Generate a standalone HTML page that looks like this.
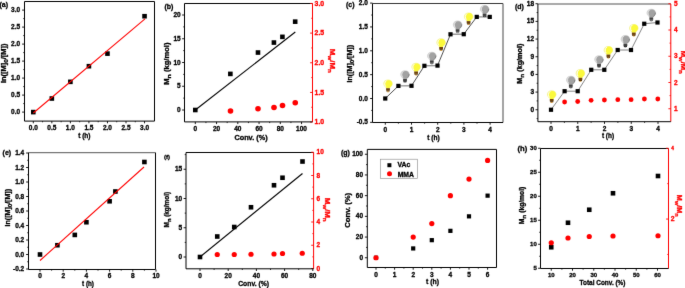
<!DOCTYPE html>
<html><head><meta charset="utf-8"><style>
html,body{margin:0;padding:0;background:#fff;width:685px;height:288px;overflow:hidden}
svg{display:block;will-change:transform;}
text{font-family:"Liberation Sans",sans-serif;font-weight:bold;stroke-width:0.3px}
</style></head><body>
<svg width="685" height="288" viewBox="0 0 685 288">
<defs><filter id="bl" x="0" y="0" width="685" height="288" filterUnits="userSpaceOnUse" color-interpolation-filters="sRGB"><feConvolveMatrix order="3" kernelMatrix="0.0052 0.0619 0.0052 0.0619 0.7314 0.0619 0.0052 0.0619 0.0052" edgeMode="duplicate"/></filter></defs>
<rect width="685" height="288" fill="#fff"/>
<g filter="url(#bl)">
<line x1="24.5" y1="1.5" x2="154.5" y2="1.5" stroke="#000" stroke-width="1"/>
<line x1="154.5" y1="1.5" x2="154.5" y2="121.1" stroke="#000" stroke-width="1"/>
<line x1="24.5" y1="1.5" x2="24.5" y2="121.1" stroke="#000" stroke-width="1"/>
<line x1="22.1" y1="112.1" x2="24.5" y2="112.1" stroke="#000" stroke-width="0.9"/>
<text x="20.1" y="114.11" text-anchor="end" font-size="6.5" fill="#000" stroke="#000">0.0</text>
<line x1="22.1" y1="95.1" x2="24.5" y2="95.1" stroke="#000" stroke-width="0.9"/>
<text x="20.1" y="97.11" text-anchor="end" font-size="6.5" fill="#000" stroke="#000">0.5</text>
<line x1="22.1" y1="78.1" x2="24.5" y2="78.1" stroke="#000" stroke-width="0.9"/>
<text x="20.1" y="80.11" text-anchor="end" font-size="6.5" fill="#000" stroke="#000">1.0</text>
<line x1="22.1" y1="61.1" x2="24.5" y2="61.1" stroke="#000" stroke-width="0.9"/>
<text x="20.1" y="63.11" text-anchor="end" font-size="6.5" fill="#000" stroke="#000">1.5</text>
<line x1="22.1" y1="44.1" x2="24.5" y2="44.1" stroke="#000" stroke-width="0.9"/>
<text x="20.1" y="46.11" text-anchor="end" font-size="6.5" fill="#000" stroke="#000">2.0</text>
<line x1="22.1" y1="27.1" x2="24.5" y2="27.1" stroke="#000" stroke-width="0.9"/>
<text x="20.1" y="29.11" text-anchor="end" font-size="6.5" fill="#000" stroke="#000">2.5</text>
<line x1="22.1" y1="10.1" x2="24.5" y2="10.1" stroke="#000" stroke-width="0.9"/>
<text x="20.1" y="12.11" text-anchor="end" font-size="6.5" fill="#000" stroke="#000">3.0</text>
<line x1="23.2" y1="103.6" x2="24.5" y2="103.6" stroke="#000" stroke-width="0.8"/>
<line x1="23.2" y1="86.6" x2="24.5" y2="86.6" stroke="#000" stroke-width="0.8"/>
<line x1="23.2" y1="69.6" x2="24.5" y2="69.6" stroke="#000" stroke-width="0.8"/>
<line x1="23.2" y1="52.6" x2="24.5" y2="52.6" stroke="#000" stroke-width="0.8"/>
<line x1="23.2" y1="35.6" x2="24.5" y2="35.6" stroke="#000" stroke-width="0.8"/>
<line x1="23.2" y1="18.6" x2="24.5" y2="18.6" stroke="#000" stroke-width="0.8"/>
<line x1="24.5" y1="121.1" x2="154.5" y2="121.1" stroke="#000" stroke-width="1"/>
<line x1="33.3" y1="121.1" x2="33.3" y2="123.3" stroke="#000" stroke-width="0.9"/>
<text x="33.3" y="130.3" text-anchor="middle" font-size="6.5" fill="#000" stroke="#000">0.0</text>
<line x1="51.84" y1="121.1" x2="51.84" y2="123.3" stroke="#000" stroke-width="0.9"/>
<text x="51.84" y="130.3" text-anchor="middle" font-size="6.5" fill="#000" stroke="#000">0.5</text>
<line x1="70.38" y1="121.1" x2="70.38" y2="123.3" stroke="#000" stroke-width="0.9"/>
<text x="70.38" y="130.3" text-anchor="middle" font-size="6.5" fill="#000" stroke="#000">1.0</text>
<line x1="88.92" y1="121.1" x2="88.92" y2="123.3" stroke="#000" stroke-width="0.9"/>
<text x="88.92" y="130.3" text-anchor="middle" font-size="6.5" fill="#000" stroke="#000">1.5</text>
<line x1="107.46" y1="121.1" x2="107.46" y2="123.3" stroke="#000" stroke-width="0.9"/>
<text x="107.46" y="130.3" text-anchor="middle" font-size="6.5" fill="#000" stroke="#000">2.0</text>
<line x1="126" y1="121.1" x2="126" y2="123.3" stroke="#000" stroke-width="0.9"/>
<text x="126" y="130.3" text-anchor="middle" font-size="6.5" fill="#000" stroke="#000">2.5</text>
<line x1="144.54" y1="121.1" x2="144.54" y2="123.3" stroke="#000" stroke-width="0.9"/>
<text x="144.54" y="130.3" text-anchor="middle" font-size="6.5" fill="#000" stroke="#000">3.0</text>
<line x1="42.57" y1="121.1" x2="42.57" y2="122.3" stroke="#000" stroke-width="0.8"/>
<line x1="61.11" y1="121.1" x2="61.11" y2="122.3" stroke="#000" stroke-width="0.8"/>
<line x1="79.65" y1="121.1" x2="79.65" y2="122.3" stroke="#000" stroke-width="0.8"/>
<line x1="98.19" y1="121.1" x2="98.19" y2="122.3" stroke="#000" stroke-width="0.8"/>
<line x1="116.73" y1="121.1" x2="116.73" y2="122.3" stroke="#000" stroke-width="0.8"/>
<line x1="135.27" y1="121.1" x2="135.27" y2="122.3" stroke="#000" stroke-width="0.8"/>
<text x="84.35" y="138.3" text-anchor="middle" font-size="6.9" fill="#000" stroke="#000" textLength="12.4" lengthAdjust="spacingAndGlyphs">t (h)</text>
<text transform="translate(5.9,63.3) rotate(-90)" text-anchor="middle" font-size="6.9" fill="#000" stroke="#000" textLength="39.4" lengthAdjust="spacingAndGlyphs">ln([M]<tspan font-size="6" dy="2">0</tspan><tspan dy="-2">/[M])</tspan></text>
<text x="-0.6" y="6.8" text-anchor="start" font-size="7" fill="#000" stroke="#000">(a)</text>
<rect x="31" y="109.8" width="4.6" height="4.6" fill="#000"/>
<rect x="49.54" y="96.2" width="4.6" height="4.6" fill="#000"/>
<rect x="68.08" y="79.54" width="4.6" height="4.6" fill="#000"/>
<rect x="86.62" y="63.9" width="4.6" height="4.6" fill="#000"/>
<rect x="105.16" y="51.32" width="4.6" height="4.6" fill="#000"/>
<rect x="142.24" y="13.92" width="4.6" height="4.6" fill="#000"/>
<line x1="33.3" y1="113" x2="145" y2="18.8" stroke="#ff0000" stroke-width="1.05"/>
<line x1="184.5" y1="3.5" x2="312.5" y2="3.5" stroke="#000" stroke-width="1"/>
<line x1="184.5" y1="3.5" x2="184.5" y2="121.9" stroke="#000" stroke-width="1"/>
<line x1="182.1" y1="110" x2="184.5" y2="110" stroke="#000" stroke-width="0.9"/>
<text x="180.7" y="112.02" text-anchor="end" font-size="6.5" fill="#000" stroke="#000">0</text>
<line x1="182.1" y1="86.25" x2="184.5" y2="86.25" stroke="#000" stroke-width="0.9"/>
<text x="180.7" y="88.27" text-anchor="end" font-size="6.5" fill="#000" stroke="#000">5</text>
<line x1="182.1" y1="62.5" x2="184.5" y2="62.5" stroke="#000" stroke-width="0.9"/>
<text x="180.7" y="64.52" text-anchor="end" font-size="6.5" fill="#000" stroke="#000">10</text>
<line x1="182.1" y1="38.75" x2="184.5" y2="38.75" stroke="#000" stroke-width="0.9"/>
<text x="180.7" y="40.77" text-anchor="end" font-size="6.5" fill="#000" stroke="#000">15</text>
<line x1="182.1" y1="15" x2="184.5" y2="15" stroke="#000" stroke-width="0.9"/>
<text x="180.7" y="17.02" text-anchor="end" font-size="6.5" fill="#000" stroke="#000">20</text>
<line x1="183.2" y1="98.12" x2="184.5" y2="98.12" stroke="#000" stroke-width="0.8"/>
<line x1="183.2" y1="74.38" x2="184.5" y2="74.38" stroke="#000" stroke-width="0.8"/>
<line x1="183.2" y1="50.62" x2="184.5" y2="50.62" stroke="#000" stroke-width="0.8"/>
<line x1="183.2" y1="26.88" x2="184.5" y2="26.88" stroke="#000" stroke-width="0.8"/>
<line x1="312.5" y1="3.5" x2="312.5" y2="121.9" stroke="#ff0000" stroke-width="1"/>
<line x1="310.1" y1="122.1" x2="312.5" y2="122.1" stroke="#ff0000" stroke-width="0.9"/>
<text x="314.6" y="124.24" text-anchor="start" font-size="6.9" fill="#ff0000" stroke="#ff0000">1.0</text>
<line x1="310.1" y1="92.44" x2="312.5" y2="92.44" stroke="#ff0000" stroke-width="0.9"/>
<text x="314.6" y="94.57" text-anchor="start" font-size="6.9" fill="#ff0000" stroke="#ff0000">1.5</text>
<line x1="310.1" y1="62.77" x2="312.5" y2="62.77" stroke="#ff0000" stroke-width="0.9"/>
<text x="314.6" y="64.91" text-anchor="start" font-size="6.9" fill="#ff0000" stroke="#ff0000">2.0</text>
<line x1="310.1" y1="33.1" x2="312.5" y2="33.1" stroke="#ff0000" stroke-width="0.9"/>
<text x="314.6" y="35.24" text-anchor="start" font-size="6.9" fill="#ff0000" stroke="#ff0000">2.5</text>
<line x1="310.1" y1="3.44" x2="312.5" y2="3.44" stroke="#ff0000" stroke-width="0.9"/>
<text x="314.6" y="5.58" text-anchor="start" font-size="6.9" fill="#ff0000" stroke="#ff0000">3.0</text>
<line x1="311.2" y1="107.27" x2="312.5" y2="107.27" stroke="#ff0000" stroke-width="0.8"/>
<line x1="311.2" y1="77.6" x2="312.5" y2="77.6" stroke="#ff0000" stroke-width="0.8"/>
<line x1="311.2" y1="47.94" x2="312.5" y2="47.94" stroke="#ff0000" stroke-width="0.8"/>
<line x1="311.2" y1="18.27" x2="312.5" y2="18.27" stroke="#ff0000" stroke-width="0.8"/>
<line x1="184.5" y1="121.9" x2="312.5" y2="121.9" stroke="#000" stroke-width="1"/>
<line x1="195.3" y1="121.9" x2="195.3" y2="124.1" stroke="#000" stroke-width="0.9"/>
<text x="195.3" y="131.1" text-anchor="middle" font-size="6.5" fill="#000" stroke="#000">0</text>
<line x1="216.55" y1="121.9" x2="216.55" y2="124.1" stroke="#000" stroke-width="0.9"/>
<text x="216.55" y="131.1" text-anchor="middle" font-size="6.5" fill="#000" stroke="#000">20</text>
<line x1="237.8" y1="121.9" x2="237.8" y2="124.1" stroke="#000" stroke-width="0.9"/>
<text x="237.8" y="131.1" text-anchor="middle" font-size="6.5" fill="#000" stroke="#000">40</text>
<line x1="259.05" y1="121.9" x2="259.05" y2="124.1" stroke="#000" stroke-width="0.9"/>
<text x="259.05" y="131.1" text-anchor="middle" font-size="6.5" fill="#000" stroke="#000">60</text>
<line x1="280.3" y1="121.9" x2="280.3" y2="124.1" stroke="#000" stroke-width="0.9"/>
<text x="280.3" y="131.1" text-anchor="middle" font-size="6.5" fill="#000" stroke="#000">80</text>
<line x1="301.55" y1="121.9" x2="301.55" y2="124.1" stroke="#000" stroke-width="0.9"/>
<text x="301.55" y="131.1" text-anchor="middle" font-size="6.5" fill="#000" stroke="#000">100</text>
<line x1="205.93" y1="121.9" x2="205.93" y2="123.1" stroke="#000" stroke-width="0.8"/>
<line x1="227.18" y1="121.9" x2="227.18" y2="123.1" stroke="#000" stroke-width="0.8"/>
<line x1="248.43" y1="121.9" x2="248.43" y2="123.1" stroke="#000" stroke-width="0.8"/>
<line x1="269.68" y1="121.9" x2="269.68" y2="123.1" stroke="#000" stroke-width="0.8"/>
<line x1="290.93" y1="121.9" x2="290.93" y2="123.1" stroke="#000" stroke-width="0.8"/>
<text x="251" y="140" text-anchor="middle" font-size="6.9" fill="#000" stroke="#000" textLength="33.2" lengthAdjust="spacingAndGlyphs">Conv. (%)</text>
<text transform="translate(169,63.65) rotate(-90)" text-anchor="middle" font-size="6.9" fill="#000" stroke="#000" textLength="42.2" lengthAdjust="spacingAndGlyphs">M<tspan font-size="6.2" dy="2">n</tspan><tspan dy="-2"> (kg/mol)</tspan></text>
<text transform="translate(329.7,60.8) rotate(90)" text-anchor="middle" font-size="7.6" fill="#ff0000" stroke="#ff0000" textLength="23.9" lengthAdjust="spacingAndGlyphs">M<tspan font-size="6.0" dy="2.0">w</tspan><tspan dy="-2.0">/M</tspan><tspan font-size="6.0" dy="2.0">n</tspan></text>
<text x="164.5" y="8.9" text-anchor="start" font-size="7" fill="#000" stroke="#000">(b)</text>
<line x1="195.3" y1="110" x2="295.3" y2="32" stroke="#000" stroke-width="1.1"/>
<rect x="193" y="107.7" width="4.6" height="4.6" fill="#000"/>
<rect x="228.06" y="71.6" width="4.6" height="4.6" fill="#000"/>
<rect x="255.69" y="50.23" width="4.6" height="4.6" fill="#000"/>
<rect x="271.62" y="40.25" width="4.6" height="4.6" fill="#000"/>
<rect x="280.12" y="34.55" width="4.6" height="4.6" fill="#000"/>
<rect x="292.88" y="19.35" width="4.6" height="4.6" fill="#000"/>
<circle cx="230.5" cy="111" r="2.8" fill="#ff0000"/>
<circle cx="258" cy="108.75" r="2.8" fill="#ff0000"/>
<circle cx="274" cy="107.5" r="2.8" fill="#ff0000"/>
<circle cx="282.5" cy="105.5" r="2.8" fill="#ff0000"/>
<circle cx="295.25" cy="102.75" r="2.8" fill="#ff0000"/>
<line x1="372.5" y1="3.5" x2="503" y2="3.5" stroke="#333" stroke-width="1"/>
<line x1="503" y1="3.5" x2="503" y2="122.5" stroke="#666" stroke-width="1.2"/>
<line x1="372.5" y1="3.5" x2="372.5" y2="122.5" stroke="#000" stroke-width="1"/>
<line x1="370.1" y1="122.35" x2="372.5" y2="122.35" stroke="#000" stroke-width="0.9"/>
<text x="367.9" y="124.36" text-anchor="end" font-size="6.5" fill="#000" stroke="#000">-0.5</text>
<line x1="370.1" y1="98.5" x2="372.5" y2="98.5" stroke="#000" stroke-width="0.9"/>
<text x="367.9" y="100.52" text-anchor="end" font-size="6.5" fill="#000" stroke="#000">0.0</text>
<line x1="370.1" y1="74.65" x2="372.5" y2="74.65" stroke="#000" stroke-width="0.9"/>
<text x="367.9" y="76.67" text-anchor="end" font-size="6.5" fill="#000" stroke="#000">0.5</text>
<line x1="370.1" y1="50.8" x2="372.5" y2="50.8" stroke="#000" stroke-width="0.9"/>
<text x="367.9" y="52.81" text-anchor="end" font-size="6.5" fill="#000" stroke="#000">1.0</text>
<line x1="370.1" y1="26.95" x2="372.5" y2="26.95" stroke="#000" stroke-width="0.9"/>
<text x="367.9" y="28.96" text-anchor="end" font-size="6.5" fill="#000" stroke="#000">1.5</text>
<line x1="370.1" y1="3.1" x2="372.5" y2="3.1" stroke="#000" stroke-width="0.9"/>
<text x="367.9" y="5.11" text-anchor="end" font-size="6.5" fill="#000" stroke="#000">2.0</text>
<line x1="371.2" y1="110.42" x2="372.5" y2="110.42" stroke="#000" stroke-width="0.8"/>
<line x1="371.2" y1="86.58" x2="372.5" y2="86.58" stroke="#000" stroke-width="0.8"/>
<line x1="371.2" y1="62.72" x2="372.5" y2="62.72" stroke="#000" stroke-width="0.8"/>
<line x1="371.2" y1="38.88" x2="372.5" y2="38.88" stroke="#000" stroke-width="0.8"/>
<line x1="371.2" y1="15.02" x2="372.5" y2="15.02" stroke="#000" stroke-width="0.8"/>
<line x1="372.5" y1="122.5" x2="503" y2="122.5" stroke="#000" stroke-width="1"/>
<line x1="385.3" y1="122.5" x2="385.3" y2="124.7" stroke="#000" stroke-width="0.9"/>
<text x="385.3" y="131.7" text-anchor="middle" font-size="6.5" fill="#000" stroke="#000">0</text>
<line x1="411.5" y1="122.5" x2="411.5" y2="124.7" stroke="#000" stroke-width="0.9"/>
<text x="411.5" y="131.7" text-anchor="middle" font-size="6.5" fill="#000" stroke="#000">1</text>
<line x1="437.7" y1="122.5" x2="437.7" y2="124.7" stroke="#000" stroke-width="0.9"/>
<text x="437.7" y="131.7" text-anchor="middle" font-size="6.5" fill="#000" stroke="#000">2</text>
<line x1="463.9" y1="122.5" x2="463.9" y2="124.7" stroke="#000" stroke-width="0.9"/>
<text x="463.9" y="131.7" text-anchor="middle" font-size="6.5" fill="#000" stroke="#000">3</text>
<line x1="490.1" y1="122.5" x2="490.1" y2="124.7" stroke="#000" stroke-width="0.9"/>
<text x="490.1" y="131.7" text-anchor="middle" font-size="6.5" fill="#000" stroke="#000">4</text>
<line x1="398.4" y1="122.5" x2="398.4" y2="123.7" stroke="#000" stroke-width="0.8"/>
<line x1="424.6" y1="122.5" x2="424.6" y2="123.7" stroke="#000" stroke-width="0.8"/>
<line x1="450.8" y1="122.5" x2="450.8" y2="123.7" stroke="#000" stroke-width="0.8"/>
<line x1="477" y1="122.5" x2="477" y2="123.7" stroke="#000" stroke-width="0.8"/>
<text x="433.55" y="140" text-anchor="middle" font-size="6.9" fill="#000" stroke="#000" textLength="12.4" lengthAdjust="spacingAndGlyphs">t (h)</text>
<text transform="translate(352.4,63.7) rotate(-90)" text-anchor="middle" font-size="6.9" fill="#000" stroke="#000" stroke-width="0.1" textLength="37.5" lengthAdjust="spacingAndGlyphs">ln([M]<tspan font-size="6" dy="2">0</tspan><tspan dy="-2">/[M])</tspan></text>
<text x="346" y="6.9" text-anchor="start" font-size="7" fill="#000" stroke="#000">(c)</text>
<line x1="385.25" y1="98.5" x2="398.4" y2="85.9" stroke="#222" stroke-width="0.8"/>
<line x1="398.4" y1="85.9" x2="411.5" y2="85.8" stroke="#999" stroke-width="1.4"/>
<line x1="411.5" y1="85.8" x2="424.4" y2="65.8" stroke="#222" stroke-width="0.8"/>
<line x1="424.4" y1="65.8" x2="437.5" y2="65.6" stroke="#999" stroke-width="1.4"/>
<line x1="437.5" y1="65.6" x2="450.5" y2="34.3" stroke="#222" stroke-width="0.8"/>
<line x1="450.5" y1="34.3" x2="463.75" y2="34.2" stroke="#999" stroke-width="1.4"/>
<line x1="463.75" y1="34.2" x2="476.75" y2="16.9" stroke="#222" stroke-width="0.8"/>
<line x1="476.75" y1="16.9" x2="489.75" y2="16.9" stroke="#999" stroke-width="1.4"/>
<g transform="translate(388,84)"><path d="M-1.9,4.3 C-2.2,3.2 -4.8,1.9 -4.8,-0.2 A4.8 4.3 0 1 1 4.8,-0.2 C4.8,1.9 2.2,3.2 1.9,4.3 Z" fill="#f2f07a" opacity="0.75"/><path d="M-1.6,4.1 C-1.6,3.1 -3.2,1.8 -3.2,-0.4 C-3.2,-2.6 -1.4,-3.8 0.6,-3.8 C2.8,-3.8 4.2,-2.2 4.2,-0.2 C4.2,1.8 1.9,3.1 1.6,4.1 Z" fill="#fbf93c"/><path d="M-2.3,2.6 C-3.7,0.9 -3.6,-1.9 -1.5,-3.4" stroke="#ffffff" stroke-width="0.9" fill="none"/><rect x="-1.9" y="4.2" width="3.8" height="2.3" fill="#6e4208"/><rect x="-1.6" y="6.4" width="3.2" height="1.1" fill="#4a2a06"/><ellipse cx="0" cy="7.7" rx="1.0" ry="0.5" fill="#d89a30"/></g>
<g transform="translate(405,74.75)"><path d="M-1.9,4.3 C-2.2,3.2 -4.8,1.9 -4.8,-0.2 A4.8 4.3 0 1 1 4.8,-0.2 C4.8,1.9 2.2,3.2 1.9,4.3 Z" fill="#c4c4c4" opacity="0.75"/><path d="M-1.6,4.1 C-1.6,3.1 -3.2,1.8 -3.2,-0.4 C-3.2,-2.6 -1.4,-3.8 0.6,-3.8 C2.8,-3.8 4.2,-2.2 4.2,-0.2 C4.2,1.8 1.9,3.1 1.6,4.1 Z" fill="#a2a2a2"/><path d="M-2.3,2.6 C-3.7,0.9 -3.6,-1.9 -1.5,-3.4" stroke="#e4e4e4" stroke-width="0.9" fill="none"/><path d="M4.1,-0.6 C4.2,1.4 3.0,2.6 2.0,3.6" stroke="#6a6a6a" stroke-width="0.7" fill="none"/><rect x="-1.9" y="4.2" width="3.8" height="2.3" fill="#404040"/><rect x="-1.6" y="6.4" width="3.2" height="1.1" fill="#262626"/><ellipse cx="0" cy="7.7" rx="1.0" ry="0.5" fill="#9a9a9a"/></g>
<g transform="translate(416.1,67.3)"><path d="M-1.9,4.3 C-2.2,3.2 -4.8,1.9 -4.8,-0.2 A4.8 4.3 0 1 1 4.8,-0.2 C4.8,1.9 2.2,3.2 1.9,4.3 Z" fill="#f2f07a" opacity="0.75"/><path d="M-1.6,4.1 C-1.6,3.1 -3.2,1.8 -3.2,-0.4 C-3.2,-2.6 -1.4,-3.8 0.6,-3.8 C2.8,-3.8 4.2,-2.2 4.2,-0.2 C4.2,1.8 1.9,3.1 1.6,4.1 Z" fill="#fbf93c"/><path d="M-2.3,2.6 C-3.7,0.9 -3.6,-1.9 -1.5,-3.4" stroke="#ffffff" stroke-width="0.9" fill="none"/><rect x="-1.9" y="4.2" width="3.8" height="2.3" fill="#6e4208"/><rect x="-1.6" y="6.4" width="3.2" height="1.1" fill="#4a2a06"/><ellipse cx="0" cy="7.7" rx="1.0" ry="0.5" fill="#d89a30"/></g>
<g transform="translate(431.8,56.2)"><path d="M-1.9,4.3 C-2.2,3.2 -4.8,1.9 -4.8,-0.2 A4.8 4.3 0 1 1 4.8,-0.2 C4.8,1.9 2.2,3.2 1.9,4.3 Z" fill="#c4c4c4" opacity="0.75"/><path d="M-1.6,4.1 C-1.6,3.1 -3.2,1.8 -3.2,-0.4 C-3.2,-2.6 -1.4,-3.8 0.6,-3.8 C2.8,-3.8 4.2,-2.2 4.2,-0.2 C4.2,1.8 1.9,3.1 1.6,4.1 Z" fill="#a2a2a2"/><path d="M-2.3,2.6 C-3.7,0.9 -3.6,-1.9 -1.5,-3.4" stroke="#e4e4e4" stroke-width="0.9" fill="none"/><path d="M4.1,-0.6 C4.2,1.4 3.0,2.6 2.0,3.6" stroke="#6a6a6a" stroke-width="0.7" fill="none"/><rect x="-1.9" y="4.2" width="3.8" height="2.3" fill="#404040"/><rect x="-1.6" y="6.4" width="3.2" height="1.1" fill="#262626"/><ellipse cx="0" cy="7.7" rx="1.0" ry="0.5" fill="#9a9a9a"/></g>
<g transform="translate(441.1,42.8)"><path d="M-1.9,4.3 C-2.2,3.2 -4.8,1.9 -4.8,-0.2 A4.8 4.3 0 1 1 4.8,-0.2 C4.8,1.9 2.2,3.2 1.9,4.3 Z" fill="#f2f07a" opacity="0.75"/><path d="M-1.6,4.1 C-1.6,3.1 -3.2,1.8 -3.2,-0.4 C-3.2,-2.6 -1.4,-3.8 0.6,-3.8 C2.8,-3.8 4.2,-2.2 4.2,-0.2 C4.2,1.8 1.9,3.1 1.6,4.1 Z" fill="#fbf93c"/><path d="M-2.3,2.6 C-3.7,0.9 -3.6,-1.9 -1.5,-3.4" stroke="#ffffff" stroke-width="0.9" fill="none"/><rect x="-1.9" y="4.2" width="3.8" height="2.3" fill="#6e4208"/><rect x="-1.6" y="6.4" width="3.2" height="1.1" fill="#4a2a06"/><ellipse cx="0" cy="7.7" rx="1.0" ry="0.5" fill="#d89a30"/></g>
<g transform="translate(457.6,25)"><path d="M-1.9,4.3 C-2.2,3.2 -4.8,1.9 -4.8,-0.2 A4.8 4.3 0 1 1 4.8,-0.2 C4.8,1.9 2.2,3.2 1.9,4.3 Z" fill="#c4c4c4" opacity="0.75"/><path d="M-1.6,4.1 C-1.6,3.1 -3.2,1.8 -3.2,-0.4 C-3.2,-2.6 -1.4,-3.8 0.6,-3.8 C2.8,-3.8 4.2,-2.2 4.2,-0.2 C4.2,1.8 1.9,3.1 1.6,4.1 Z" fill="#a2a2a2"/><path d="M-2.3,2.6 C-3.7,0.9 -3.6,-1.9 -1.5,-3.4" stroke="#e4e4e4" stroke-width="0.9" fill="none"/><path d="M4.1,-0.6 C4.2,1.4 3.0,2.6 2.0,3.6" stroke="#6a6a6a" stroke-width="0.7" fill="none"/><rect x="-1.9" y="4.2" width="3.8" height="2.3" fill="#404040"/><rect x="-1.6" y="6.4" width="3.2" height="1.1" fill="#262626"/><ellipse cx="0" cy="7.7" rx="1.0" ry="0.5" fill="#9a9a9a"/></g>
<g transform="translate(468.6,16.9)"><path d="M-1.9,4.3 C-2.2,3.2 -4.8,1.9 -4.8,-0.2 A4.8 4.3 0 1 1 4.8,-0.2 C4.8,1.9 2.2,3.2 1.9,4.3 Z" fill="#f2f07a" opacity="0.75"/><path d="M-1.6,4.1 C-1.6,3.1 -3.2,1.8 -3.2,-0.4 C-3.2,-2.6 -1.4,-3.8 0.6,-3.8 C2.8,-3.8 4.2,-2.2 4.2,-0.2 C4.2,1.8 1.9,3.1 1.6,4.1 Z" fill="#fbf93c"/><path d="M-2.3,2.6 C-3.7,0.9 -3.6,-1.9 -1.5,-3.4" stroke="#ffffff" stroke-width="0.9" fill="none"/><rect x="-1.9" y="4.2" width="3.8" height="2.3" fill="#6e4208"/><rect x="-1.6" y="6.4" width="3.2" height="1.1" fill="#4a2a06"/><ellipse cx="0" cy="7.7" rx="1.0" ry="0.5" fill="#d89a30"/></g>
<g transform="translate(484.6,9.4)"><path d="M-1.9,4.3 C-2.2,3.2 -4.8,1.9 -4.8,-0.2 A4.8 4.3 0 1 1 4.8,-0.2 C4.8,1.9 2.2,3.2 1.9,4.3 Z" fill="#c4c4c4" opacity="0.75"/><path d="M-1.6,4.1 C-1.6,3.1 -3.2,1.8 -3.2,-0.4 C-3.2,-2.6 -1.4,-3.8 0.6,-3.8 C2.8,-3.8 4.2,-2.2 4.2,-0.2 C4.2,1.8 1.9,3.1 1.6,4.1 Z" fill="#a2a2a2"/><path d="M-2.3,2.6 C-3.7,0.9 -3.6,-1.9 -1.5,-3.4" stroke="#e4e4e4" stroke-width="0.9" fill="none"/><path d="M4.1,-0.6 C4.2,1.4 3.0,2.6 2.0,3.6" stroke="#6a6a6a" stroke-width="0.7" fill="none"/><rect x="-1.9" y="4.2" width="3.8" height="2.3" fill="#404040"/><rect x="-1.6" y="6.4" width="3.2" height="1.1" fill="#262626"/><ellipse cx="0" cy="7.7" rx="1.0" ry="0.5" fill="#9a9a9a"/></g>
<rect x="383.15" y="96.4" width="4.2" height="4.2" fill="#000"/>
<rect x="396.3" y="83.8" width="4.2" height="4.2" fill="#000"/>
<rect x="409.4" y="83.7" width="4.2" height="4.2" fill="#000"/>
<rect x="422.3" y="63.7" width="4.2" height="4.2" fill="#000"/>
<rect x="435.4" y="63.5" width="4.2" height="4.2" fill="#000"/>
<rect x="448.4" y="32.2" width="4.2" height="4.2" fill="#000"/>
<rect x="461.65" y="32.1" width="4.2" height="4.2" fill="#000"/>
<rect x="474.65" y="14.8" width="4.2" height="4.2" fill="#000"/>
<rect x="487.65" y="14.8" width="4.2" height="4.2" fill="#000"/>
<line x1="537.9" y1="4" x2="670.8" y2="4" stroke="#555" stroke-width="1.2"/>
<line x1="537.9" y1="4" x2="537.9" y2="121.7" stroke="#000" stroke-width="1"/>
<line x1="535.5" y1="109.75" x2="537.9" y2="109.75" stroke="#000" stroke-width="0.9"/>
<text x="534.1" y="111.77" text-anchor="end" font-size="6.5" fill="#000" stroke="#000">0</text>
<line x1="535.5" y1="92.08" x2="537.9" y2="92.08" stroke="#000" stroke-width="0.9"/>
<text x="534.1" y="94.09" text-anchor="end" font-size="6.5" fill="#000" stroke="#000">3</text>
<line x1="535.5" y1="74.41" x2="537.9" y2="74.41" stroke="#000" stroke-width="0.9"/>
<text x="534.1" y="76.42" text-anchor="end" font-size="6.5" fill="#000" stroke="#000">6</text>
<line x1="535.5" y1="56.74" x2="537.9" y2="56.74" stroke="#000" stroke-width="0.9"/>
<text x="534.1" y="58.76" text-anchor="end" font-size="6.5" fill="#000" stroke="#000">9</text>
<line x1="535.5" y1="39.07" x2="537.9" y2="39.07" stroke="#000" stroke-width="0.9"/>
<text x="534.1" y="41.09" text-anchor="end" font-size="6.5" fill="#000" stroke="#000">12</text>
<line x1="535.5" y1="21.4" x2="537.9" y2="21.4" stroke="#000" stroke-width="0.9"/>
<text x="534.1" y="23.42" text-anchor="end" font-size="6.5" fill="#000" stroke="#000">15</text>
<line x1="535.5" y1="3.73" x2="537.9" y2="3.73" stroke="#000" stroke-width="0.9"/>
<text x="534.1" y="5.75" text-anchor="end" font-size="6.5" fill="#000" stroke="#000">18</text>
<line x1="536.6" y1="118.58" x2="537.9" y2="118.58" stroke="#000" stroke-width="0.8"/>
<line x1="536.6" y1="100.92" x2="537.9" y2="100.92" stroke="#000" stroke-width="0.8"/>
<line x1="536.6" y1="83.25" x2="537.9" y2="83.25" stroke="#000" stroke-width="0.8"/>
<line x1="536.6" y1="65.58" x2="537.9" y2="65.58" stroke="#000" stroke-width="0.8"/>
<line x1="536.6" y1="47.91" x2="537.9" y2="47.91" stroke="#000" stroke-width="0.8"/>
<line x1="536.6" y1="30.23" x2="537.9" y2="30.23" stroke="#000" stroke-width="0.8"/>
<line x1="536.6" y1="12.57" x2="537.9" y2="12.57" stroke="#000" stroke-width="0.8"/>
<line x1="670.8" y1="4" x2="670.8" y2="121.7" stroke="#ff0000" stroke-width="1"/>
<line x1="668.4" y1="108.75" x2="670.8" y2="108.75" stroke="#ff0000" stroke-width="0.9"/>
<text x="674" y="110.77" text-anchor="start" font-size="6.5" fill="#ff0000" stroke="#ff0000">1</text>
<line x1="668.4" y1="82.5" x2="670.8" y2="82.5" stroke="#ff0000" stroke-width="0.9"/>
<text x="674" y="84.52" text-anchor="start" font-size="6.5" fill="#ff0000" stroke="#ff0000">2</text>
<line x1="668.4" y1="56.25" x2="670.8" y2="56.25" stroke="#ff0000" stroke-width="0.9"/>
<text x="674" y="58.27" text-anchor="start" font-size="6.5" fill="#ff0000" stroke="#ff0000">3</text>
<line x1="668.4" y1="30" x2="670.8" y2="30" stroke="#ff0000" stroke-width="0.9"/>
<text x="674" y="32.02" text-anchor="start" font-size="6.5" fill="#ff0000" stroke="#ff0000">4</text>
<line x1="668.4" y1="3.75" x2="670.8" y2="3.75" stroke="#ff0000" stroke-width="0.9"/>
<text x="674" y="5.77" text-anchor="start" font-size="6.5" fill="#ff0000" stroke="#ff0000">5</text>
<line x1="669.5" y1="95.62" x2="670.8" y2="95.62" stroke="#ff0000" stroke-width="0.8"/>
<line x1="669.5" y1="69.38" x2="670.8" y2="69.38" stroke="#ff0000" stroke-width="0.8"/>
<line x1="669.5" y1="43.12" x2="670.8" y2="43.12" stroke="#ff0000" stroke-width="0.8"/>
<line x1="669.5" y1="16.88" x2="670.8" y2="16.88" stroke="#ff0000" stroke-width="0.8"/>
<line x1="537.9" y1="121.7" x2="670.8" y2="121.7" stroke="#000" stroke-width="1"/>
<line x1="551" y1="121.7" x2="551" y2="123.9" stroke="#000" stroke-width="0.9"/>
<text x="551" y="130.9" text-anchor="middle" font-size="6.5" fill="#000" stroke="#000">0</text>
<line x1="577.75" y1="121.7" x2="577.75" y2="123.9" stroke="#000" stroke-width="0.9"/>
<text x="577.75" y="130.9" text-anchor="middle" font-size="6.5" fill="#000" stroke="#000">1</text>
<line x1="604.5" y1="121.7" x2="604.5" y2="123.9" stroke="#000" stroke-width="0.9"/>
<text x="604.5" y="130.9" text-anchor="middle" font-size="6.5" fill="#000" stroke="#000">2</text>
<line x1="631.25" y1="121.7" x2="631.25" y2="123.9" stroke="#000" stroke-width="0.9"/>
<text x="631.25" y="130.9" text-anchor="middle" font-size="6.5" fill="#000" stroke="#000">3</text>
<line x1="658" y1="121.7" x2="658" y2="123.9" stroke="#000" stroke-width="0.9"/>
<text x="658" y="130.9" text-anchor="middle" font-size="6.5" fill="#000" stroke="#000">4</text>
<line x1="564.38" y1="121.7" x2="564.38" y2="122.9" stroke="#000" stroke-width="0.8"/>
<line x1="591.12" y1="121.7" x2="591.12" y2="122.9" stroke="#000" stroke-width="0.8"/>
<line x1="617.88" y1="121.7" x2="617.88" y2="122.9" stroke="#000" stroke-width="0.8"/>
<line x1="644.62" y1="121.7" x2="644.62" y2="122.9" stroke="#000" stroke-width="0.8"/>
<text x="608" y="138.3" text-anchor="middle" font-size="6.9" fill="#000" stroke="#000" textLength="12.1" lengthAdjust="spacingAndGlyphs">t (h)</text>
<text transform="translate(521.6,63.7) rotate(-90)" text-anchor="middle" font-size="6.9" fill="#000" stroke="#000" textLength="40.1" lengthAdjust="spacingAndGlyphs">M<tspan font-size="6.2" dy="2">n</tspan><tspan dy="-2"> (kg/mol)</tspan></text>
<text transform="translate(680.5,62.25) rotate(90)" text-anchor="middle" font-size="7.6" fill="#ff0000" stroke="#ff0000" textLength="22.8" lengthAdjust="spacingAndGlyphs">M<tspan font-size="6.0" dy="2.0">w</tspan><tspan dy="-2.0">/M</tspan><tspan font-size="6.0" dy="2.0">n</tspan></text>
<text x="515" y="9" text-anchor="start" font-size="7" fill="#000" stroke="#000">(d)</text>
<polyline points="551,109.75 564.6,91.2 577.7,91.2 591.25,69.8 604.3,69.8 617.7,50 631,50 644.25,23.75 657.5,22.5" fill="none" stroke="#666" stroke-width="0.8"/>
<g transform="translate(551.7,94.8)"><path d="M-1.9,4.3 C-2.2,3.2 -4.8,1.9 -4.8,-0.2 A4.8 4.3 0 1 1 4.8,-0.2 C4.8,1.9 2.2,3.2 1.9,4.3 Z" fill="#f2f07a" opacity="0.75"/><path d="M-1.6,4.1 C-1.6,3.1 -3.2,1.8 -3.2,-0.4 C-3.2,-2.6 -1.4,-3.8 0.6,-3.8 C2.8,-3.8 4.2,-2.2 4.2,-0.2 C4.2,1.8 1.9,3.1 1.6,4.1 Z" fill="#fbf93c"/><path d="M-2.3,2.6 C-3.7,0.9 -3.6,-1.9 -1.5,-3.4" stroke="#ffffff" stroke-width="0.9" fill="none"/><rect x="-1.9" y="4.2" width="3.8" height="2.3" fill="#6e4208"/><rect x="-1.6" y="6.4" width="3.2" height="1.1" fill="#4a2a06"/><ellipse cx="0" cy="7.7" rx="1.0" ry="0.5" fill="#d89a30"/></g>
<g transform="translate(570.8,80.3)"><path d="M-1.9,4.3 C-2.2,3.2 -4.8,1.9 -4.8,-0.2 A4.8 4.3 0 1 1 4.8,-0.2 C4.8,1.9 2.2,3.2 1.9,4.3 Z" fill="#c4c4c4" opacity="0.75"/><path d="M-1.6,4.1 C-1.6,3.1 -3.2,1.8 -3.2,-0.4 C-3.2,-2.6 -1.4,-3.8 0.6,-3.8 C2.8,-3.8 4.2,-2.2 4.2,-0.2 C4.2,1.8 1.9,3.1 1.6,4.1 Z" fill="#a2a2a2"/><path d="M-2.3,2.6 C-3.7,0.9 -3.6,-1.9 -1.5,-3.4" stroke="#e4e4e4" stroke-width="0.9" fill="none"/><path d="M4.1,-0.6 C4.2,1.4 3.0,2.6 2.0,3.6" stroke="#6a6a6a" stroke-width="0.7" fill="none"/><rect x="-1.9" y="4.2" width="3.8" height="2.3" fill="#404040"/><rect x="-1.6" y="6.4" width="3.2" height="1.1" fill="#262626"/><ellipse cx="0" cy="7.7" rx="1.0" ry="0.5" fill="#9a9a9a"/></g>
<g transform="translate(580.4,73.6)"><path d="M-1.9,4.3 C-2.2,3.2 -4.8,1.9 -4.8,-0.2 A4.8 4.3 0 1 1 4.8,-0.2 C4.8,1.9 2.2,3.2 1.9,4.3 Z" fill="#f2f07a" opacity="0.75"/><path d="M-1.6,4.1 C-1.6,3.1 -3.2,1.8 -3.2,-0.4 C-3.2,-2.6 -1.4,-3.8 0.6,-3.8 C2.8,-3.8 4.2,-2.2 4.2,-0.2 C4.2,1.8 1.9,3.1 1.6,4.1 Z" fill="#fbf93c"/><path d="M-2.3,2.6 C-3.7,0.9 -3.6,-1.9 -1.5,-3.4" stroke="#ffffff" stroke-width="0.9" fill="none"/><rect x="-1.9" y="4.2" width="3.8" height="2.3" fill="#6e4208"/><rect x="-1.6" y="6.4" width="3.2" height="1.1" fill="#4a2a06"/><ellipse cx="0" cy="7.7" rx="1.0" ry="0.5" fill="#d89a30"/></g>
<g transform="translate(599,59.8)"><path d="M-1.9,4.3 C-2.2,3.2 -4.8,1.9 -4.8,-0.2 A4.8 4.3 0 1 1 4.8,-0.2 C4.8,1.9 2.2,3.2 1.9,4.3 Z" fill="#c4c4c4" opacity="0.75"/><path d="M-1.6,4.1 C-1.6,3.1 -3.2,1.8 -3.2,-0.4 C-3.2,-2.6 -1.4,-3.8 0.6,-3.8 C2.8,-3.8 4.2,-2.2 4.2,-0.2 C4.2,1.8 1.9,3.1 1.6,4.1 Z" fill="#a2a2a2"/><path d="M-2.3,2.6 C-3.7,0.9 -3.6,-1.9 -1.5,-3.4" stroke="#e4e4e4" stroke-width="0.9" fill="none"/><path d="M4.1,-0.6 C4.2,1.4 3.0,2.6 2.0,3.6" stroke="#6a6a6a" stroke-width="0.7" fill="none"/><rect x="-1.9" y="4.2" width="3.8" height="2.3" fill="#404040"/><rect x="-1.6" y="6.4" width="3.2" height="1.1" fill="#262626"/><ellipse cx="0" cy="7.7" rx="1.0" ry="0.5" fill="#9a9a9a"/></g>
<g transform="translate(608.4,50.4)"><path d="M-1.9,4.3 C-2.2,3.2 -4.8,1.9 -4.8,-0.2 A4.8 4.3 0 1 1 4.8,-0.2 C4.8,1.9 2.2,3.2 1.9,4.3 Z" fill="#f2f07a" opacity="0.75"/><path d="M-1.6,4.1 C-1.6,3.1 -3.2,1.8 -3.2,-0.4 C-3.2,-2.6 -1.4,-3.8 0.6,-3.8 C2.8,-3.8 4.2,-2.2 4.2,-0.2 C4.2,1.8 1.9,3.1 1.6,4.1 Z" fill="#fbf93c"/><path d="M-2.3,2.6 C-3.7,0.9 -3.6,-1.9 -1.5,-3.4" stroke="#ffffff" stroke-width="0.9" fill="none"/><rect x="-1.9" y="4.2" width="3.8" height="2.3" fill="#6e4208"/><rect x="-1.6" y="6.4" width="3.2" height="1.1" fill="#4a2a06"/><ellipse cx="0" cy="7.7" rx="1.0" ry="0.5" fill="#d89a30"/></g>
<g transform="translate(625.4,39.5)"><path d="M-1.9,4.3 C-2.2,3.2 -4.8,1.9 -4.8,-0.2 A4.8 4.3 0 1 1 4.8,-0.2 C4.8,1.9 2.2,3.2 1.9,4.3 Z" fill="#c4c4c4" opacity="0.75"/><path d="M-1.6,4.1 C-1.6,3.1 -3.2,1.8 -3.2,-0.4 C-3.2,-2.6 -1.4,-3.8 0.6,-3.8 C2.8,-3.8 4.2,-2.2 4.2,-0.2 C4.2,1.8 1.9,3.1 1.6,4.1 Z" fill="#a2a2a2"/><path d="M-2.3,2.6 C-3.7,0.9 -3.6,-1.9 -1.5,-3.4" stroke="#e4e4e4" stroke-width="0.9" fill="none"/><path d="M4.1,-0.6 C4.2,1.4 3.0,2.6 2.0,3.6" stroke="#6a6a6a" stroke-width="0.7" fill="none"/><rect x="-1.9" y="4.2" width="3.8" height="2.3" fill="#404040"/><rect x="-1.6" y="6.4" width="3.2" height="1.1" fill="#262626"/><ellipse cx="0" cy="7.7" rx="1.0" ry="0.5" fill="#9a9a9a"/></g>
<g transform="translate(633.8,28.4)"><path d="M-1.9,4.3 C-2.2,3.2 -4.8,1.9 -4.8,-0.2 A4.8 4.3 0 1 1 4.8,-0.2 C4.8,1.9 2.2,3.2 1.9,4.3 Z" fill="#f2f07a" opacity="0.75"/><path d="M-1.6,4.1 C-1.6,3.1 -3.2,1.8 -3.2,-0.4 C-3.2,-2.6 -1.4,-3.8 0.6,-3.8 C2.8,-3.8 4.2,-2.2 4.2,-0.2 C4.2,1.8 1.9,3.1 1.6,4.1 Z" fill="#fbf93c"/><path d="M-2.3,2.6 C-3.7,0.9 -3.6,-1.9 -1.5,-3.4" stroke="#ffffff" stroke-width="0.9" fill="none"/><rect x="-1.9" y="4.2" width="3.8" height="2.3" fill="#6e4208"/><rect x="-1.6" y="6.4" width="3.2" height="1.1" fill="#4a2a06"/><ellipse cx="0" cy="7.7" rx="1.0" ry="0.5" fill="#d89a30"/></g>
<g transform="translate(651.3,13.2)"><path d="M-1.9,4.3 C-2.2,3.2 -4.8,1.9 -4.8,-0.2 A4.8 4.3 0 1 1 4.8,-0.2 C4.8,1.9 2.2,3.2 1.9,4.3 Z" fill="#c4c4c4" opacity="0.75"/><path d="M-1.6,4.1 C-1.6,3.1 -3.2,1.8 -3.2,-0.4 C-3.2,-2.6 -1.4,-3.8 0.6,-3.8 C2.8,-3.8 4.2,-2.2 4.2,-0.2 C4.2,1.8 1.9,3.1 1.6,4.1 Z" fill="#a2a2a2"/><path d="M-2.3,2.6 C-3.7,0.9 -3.6,-1.9 -1.5,-3.4" stroke="#e4e4e4" stroke-width="0.9" fill="none"/><path d="M4.1,-0.6 C4.2,1.4 3.0,2.6 2.0,3.6" stroke="#6a6a6a" stroke-width="0.7" fill="none"/><rect x="-1.9" y="4.2" width="3.8" height="2.3" fill="#404040"/><rect x="-1.6" y="6.4" width="3.2" height="1.1" fill="#262626"/><ellipse cx="0" cy="7.7" rx="1.0" ry="0.5" fill="#9a9a9a"/></g>
<rect x="548.9" y="107.65" width="4.2" height="4.2" fill="#000"/>
<rect x="562.5" y="89.1" width="4.2" height="4.2" fill="#000"/>
<rect x="575.6" y="89.1" width="4.2" height="4.2" fill="#000"/>
<rect x="589.15" y="67.7" width="4.2" height="4.2" fill="#000"/>
<rect x="602.2" y="67.7" width="4.2" height="4.2" fill="#000"/>
<rect x="615.6" y="47.9" width="4.2" height="4.2" fill="#000"/>
<rect x="628.9" y="47.9" width="4.2" height="4.2" fill="#000"/>
<rect x="642.15" y="21.65" width="4.2" height="4.2" fill="#000"/>
<rect x="655.4" y="20.4" width="4.2" height="4.2" fill="#000"/>
<circle cx="564.6" cy="102" r="2.4" fill="#ff0000"/>
<circle cx="577.7" cy="101.5" r="2.4" fill="#ff0000"/>
<circle cx="591.1" cy="100.3" r="2.4" fill="#ff0000"/>
<circle cx="604.4" cy="100" r="2.4" fill="#ff0000"/>
<circle cx="617.8" cy="99.7" r="2.4" fill="#ff0000"/>
<circle cx="631.1" cy="99.7" r="2.4" fill="#ff0000"/>
<circle cx="644.4" cy="99" r="2.4" fill="#ff0000"/>
<circle cx="657.8" cy="99" r="2.4" fill="#ff0000"/>
<line x1="28.5" y1="152.7" x2="155.5" y2="152.7" stroke="#555" stroke-width="1"/>
<line x1="155.5" y1="152.7" x2="155.5" y2="269.5" stroke="#000" stroke-width="1"/>
<line x1="28.5" y1="152.7" x2="28.5" y2="269.5" stroke="#000" stroke-width="1"/>
<line x1="26.1" y1="269" x2="28.5" y2="269" stroke="#000" stroke-width="0.9"/>
<text x="24.2" y="271.01" text-anchor="end" font-size="6.5" fill="#000" stroke="#000">-0.2</text>
<line x1="26.1" y1="254.5" x2="28.5" y2="254.5" stroke="#000" stroke-width="0.9"/>
<text x="24.2" y="256.51" text-anchor="end" font-size="6.5" fill="#000" stroke="#000">0.0</text>
<line x1="26.1" y1="240" x2="28.5" y2="240" stroke="#000" stroke-width="0.9"/>
<text x="24.2" y="242.01" text-anchor="end" font-size="6.5" fill="#000" stroke="#000">0.2</text>
<line x1="26.1" y1="225.5" x2="28.5" y2="225.5" stroke="#000" stroke-width="0.9"/>
<text x="24.2" y="227.51" text-anchor="end" font-size="6.5" fill="#000" stroke="#000">0.4</text>
<line x1="26.1" y1="211" x2="28.5" y2="211" stroke="#000" stroke-width="0.9"/>
<text x="24.2" y="213.01" text-anchor="end" font-size="6.5" fill="#000" stroke="#000">0.6</text>
<line x1="26.1" y1="196.5" x2="28.5" y2="196.5" stroke="#000" stroke-width="0.9"/>
<text x="24.2" y="198.51" text-anchor="end" font-size="6.5" fill="#000" stroke="#000">0.8</text>
<line x1="26.1" y1="182" x2="28.5" y2="182" stroke="#000" stroke-width="0.9"/>
<text x="24.2" y="184.01" text-anchor="end" font-size="6.5" fill="#000" stroke="#000">1.0</text>
<line x1="26.1" y1="167.5" x2="28.5" y2="167.5" stroke="#000" stroke-width="0.9"/>
<text x="24.2" y="169.51" text-anchor="end" font-size="6.5" fill="#000" stroke="#000">1.2</text>
<line x1="26.1" y1="153" x2="28.5" y2="153" stroke="#000" stroke-width="0.9"/>
<text x="24.2" y="155.01" text-anchor="end" font-size="6.5" fill="#000" stroke="#000">1.4</text>
<line x1="27.2" y1="261.75" x2="28.5" y2="261.75" stroke="#000" stroke-width="0.8"/>
<line x1="27.2" y1="247.25" x2="28.5" y2="247.25" stroke="#000" stroke-width="0.8"/>
<line x1="27.2" y1="232.75" x2="28.5" y2="232.75" stroke="#000" stroke-width="0.8"/>
<line x1="27.2" y1="218.25" x2="28.5" y2="218.25" stroke="#000" stroke-width="0.8"/>
<line x1="27.2" y1="203.75" x2="28.5" y2="203.75" stroke="#000" stroke-width="0.8"/>
<line x1="27.2" y1="189.25" x2="28.5" y2="189.25" stroke="#000" stroke-width="0.8"/>
<line x1="27.2" y1="174.75" x2="28.5" y2="174.75" stroke="#000" stroke-width="0.8"/>
<line x1="27.2" y1="160.25" x2="28.5" y2="160.25" stroke="#000" stroke-width="0.8"/>
<line x1="28.5" y1="269.5" x2="155.5" y2="269.5" stroke="#000" stroke-width="1"/>
<line x1="40" y1="269.5" x2="40" y2="271.7" stroke="#000" stroke-width="0.9"/>
<text x="40" y="278" text-anchor="middle" font-size="6.5" fill="#000" stroke="#000">0</text>
<line x1="63.2" y1="269.5" x2="63.2" y2="271.7" stroke="#000" stroke-width="0.9"/>
<text x="63.2" y="278" text-anchor="middle" font-size="6.5" fill="#000" stroke="#000">2</text>
<line x1="86.4" y1="269.5" x2="86.4" y2="271.7" stroke="#000" stroke-width="0.9"/>
<text x="86.4" y="278" text-anchor="middle" font-size="6.5" fill="#000" stroke="#000">4</text>
<line x1="109.6" y1="269.5" x2="109.6" y2="271.7" stroke="#000" stroke-width="0.9"/>
<text x="109.6" y="278" text-anchor="middle" font-size="6.5" fill="#000" stroke="#000">6</text>
<line x1="132.8" y1="269.5" x2="132.8" y2="271.7" stroke="#000" stroke-width="0.9"/>
<text x="132.8" y="278" text-anchor="middle" font-size="6.5" fill="#000" stroke="#000">8</text>
<line x1="156" y1="269.5" x2="156" y2="271.7" stroke="#000" stroke-width="0.9"/>
<text x="156" y="278" text-anchor="middle" font-size="6.5" fill="#000" stroke="#000">10</text>
<line x1="51.6" y1="269.5" x2="51.6" y2="270.7" stroke="#000" stroke-width="0.8"/>
<line x1="74.8" y1="269.5" x2="74.8" y2="270.7" stroke="#000" stroke-width="0.8"/>
<line x1="98" y1="269.5" x2="98" y2="270.7" stroke="#000" stroke-width="0.8"/>
<line x1="121.2" y1="269.5" x2="121.2" y2="270.7" stroke="#000" stroke-width="0.8"/>
<line x1="144.4" y1="269.5" x2="144.4" y2="270.7" stroke="#000" stroke-width="0.8"/>
<text x="88" y="286" text-anchor="middle" font-size="6.9" fill="#000" stroke="#000" textLength="11.9" lengthAdjust="spacingAndGlyphs">t (h)</text>
<text transform="translate(9.6,207.7) rotate(-90)" text-anchor="middle" font-size="6.9" fill="#000" stroke="#000" textLength="37.5" lengthAdjust="spacingAndGlyphs">ln([M]<tspan font-size="6" dy="2">0</tspan><tspan dy="-2">/[M])</tspan></text>
<text x="2.6" y="155.4" text-anchor="start" font-size="7" fill="#000" stroke="#000">(e)</text>
<rect x="37.7" y="252.2" width="4.6" height="4.6" fill="#000"/>
<rect x="55.1" y="242.92" width="4.6" height="4.6" fill="#000"/>
<rect x="72.5" y="232.62" width="4.6" height="4.6" fill="#000"/>
<rect x="84.1" y="219.94" width="4.6" height="4.6" fill="#000"/>
<rect x="107.3" y="198.98" width="4.6" height="4.6" fill="#000"/>
<rect x="113.1" y="189.2" width="4.6" height="4.6" fill="#000"/>
<rect x="142.1" y="159.69" width="4.6" height="4.6" fill="#000"/>
<line x1="40" y1="260.5" x2="144" y2="167" stroke="#ff0000" stroke-width="1.05"/>
<line x1="186" y1="152.5" x2="313.6" y2="152.5" stroke="#000" stroke-width="1"/>
<line x1="186" y1="152.5" x2="186" y2="268.8" stroke="#000" stroke-width="1"/>
<line x1="183.6" y1="257" x2="186" y2="257" stroke="#000" stroke-width="0.9"/>
<text x="182.2" y="259.01" text-anchor="end" font-size="6.5" fill="#000" stroke="#000">0</text>
<line x1="183.6" y1="227.75" x2="186" y2="227.75" stroke="#000" stroke-width="0.9"/>
<text x="182.2" y="229.76" text-anchor="end" font-size="6.5" fill="#000" stroke="#000">5</text>
<line x1="183.6" y1="198.5" x2="186" y2="198.5" stroke="#000" stroke-width="0.9"/>
<text x="182.2" y="200.51" text-anchor="end" font-size="6.5" fill="#000" stroke="#000">10</text>
<line x1="183.6" y1="169.25" x2="186" y2="169.25" stroke="#000" stroke-width="0.9"/>
<text x="182.2" y="171.26" text-anchor="end" font-size="6.5" fill="#000" stroke="#000">15</text>
<line x1="184.7" y1="242.38" x2="186" y2="242.38" stroke="#000" stroke-width="0.8"/>
<line x1="184.7" y1="213.12" x2="186" y2="213.12" stroke="#000" stroke-width="0.8"/>
<line x1="184.7" y1="183.88" x2="186" y2="183.88" stroke="#000" stroke-width="0.8"/>
<line x1="184.7" y1="154.62" x2="186" y2="154.62" stroke="#000" stroke-width="0.8"/>
<line x1="313.6" y1="152.5" x2="313.6" y2="268.8" stroke="#ff0000" stroke-width="1"/>
<line x1="311.2" y1="268.5" x2="313.6" y2="268.5" stroke="#ff0000" stroke-width="0.9"/>
<text x="316.6" y="270.51" text-anchor="start" font-size="6.5" fill="#ff0000" stroke="#ff0000">0</text>
<line x1="311.2" y1="245.25" x2="313.6" y2="245.25" stroke="#ff0000" stroke-width="0.9"/>
<text x="316.6" y="247.26" text-anchor="start" font-size="6.5" fill="#ff0000" stroke="#ff0000">2</text>
<line x1="311.2" y1="222" x2="313.6" y2="222" stroke="#ff0000" stroke-width="0.9"/>
<text x="316.6" y="224.01" text-anchor="start" font-size="6.5" fill="#ff0000" stroke="#ff0000">4</text>
<line x1="311.2" y1="198.75" x2="313.6" y2="198.75" stroke="#ff0000" stroke-width="0.9"/>
<text x="316.6" y="200.76" text-anchor="start" font-size="6.5" fill="#ff0000" stroke="#ff0000">6</text>
<line x1="311.2" y1="175.5" x2="313.6" y2="175.5" stroke="#ff0000" stroke-width="0.9"/>
<text x="316.6" y="177.51" text-anchor="start" font-size="6.5" fill="#ff0000" stroke="#ff0000">8</text>
<line x1="311.2" y1="152.25" x2="313.6" y2="152.25" stroke="#ff0000" stroke-width="0.9"/>
<text x="316.6" y="154.26" text-anchor="start" font-size="6.5" fill="#ff0000" stroke="#ff0000">10</text>
<line x1="312.3" y1="256.88" x2="313.6" y2="256.88" stroke="#ff0000" stroke-width="0.8"/>
<line x1="312.3" y1="233.62" x2="313.6" y2="233.62" stroke="#ff0000" stroke-width="0.8"/>
<line x1="312.3" y1="210.38" x2="313.6" y2="210.38" stroke="#ff0000" stroke-width="0.8"/>
<line x1="312.3" y1="187.12" x2="313.6" y2="187.12" stroke="#ff0000" stroke-width="0.8"/>
<line x1="312.3" y1="163.88" x2="313.6" y2="163.88" stroke="#ff0000" stroke-width="0.8"/>
<line x1="186" y1="268.8" x2="313.6" y2="268.8" stroke="#000" stroke-width="1"/>
<line x1="200" y1="268.8" x2="200" y2="271" stroke="#000" stroke-width="0.9"/>
<text x="200" y="278" text-anchor="middle" font-size="6.5" fill="#000" stroke="#000">0</text>
<line x1="228.2" y1="268.8" x2="228.2" y2="271" stroke="#000" stroke-width="0.9"/>
<text x="228.2" y="278" text-anchor="middle" font-size="6.5" fill="#000" stroke="#000">20</text>
<line x1="256.4" y1="268.8" x2="256.4" y2="271" stroke="#000" stroke-width="0.9"/>
<text x="256.4" y="278" text-anchor="middle" font-size="6.5" fill="#000" stroke="#000">40</text>
<line x1="284.6" y1="268.8" x2="284.6" y2="271" stroke="#000" stroke-width="0.9"/>
<text x="284.6" y="278" text-anchor="middle" font-size="6.5" fill="#000" stroke="#000">60</text>
<line x1="312.8" y1="268.8" x2="312.8" y2="271" stroke="#000" stroke-width="0.9"/>
<text x="312.8" y="278" text-anchor="middle" font-size="6.5" fill="#000" stroke="#000">80</text>
<line x1="214.1" y1="268.8" x2="214.1" y2="270" stroke="#000" stroke-width="0.8"/>
<line x1="242.3" y1="268.8" x2="242.3" y2="270" stroke="#000" stroke-width="0.8"/>
<line x1="270.5" y1="268.8" x2="270.5" y2="270" stroke="#000" stroke-width="0.8"/>
<line x1="298.7" y1="268.8" x2="298.7" y2="270" stroke="#000" stroke-width="0.8"/>
<text x="253.6" y="286" text-anchor="middle" font-size="6.9" fill="#000" stroke="#000" textLength="30.75" lengthAdjust="spacingAndGlyphs">Conv. (%)</text>
<text transform="translate(169.2,209.7) rotate(-90)" text-anchor="middle" font-size="6.9" fill="#000" stroke="#000" textLength="35.5" lengthAdjust="spacingAndGlyphs">M<tspan font-size="6.2" dy="2">n</tspan><tspan dy="-2"> (kg/mol)</tspan></text>
<text transform="translate(324.5,209.75) rotate(90)" text-anchor="middle" font-size="7.6" fill="#ff0000" stroke="#ff0000" textLength="23.8" lengthAdjust="spacingAndGlyphs">M<tspan font-size="6.0" dy="2.0">w</tspan><tspan dy="-2.0">/M</tspan><tspan font-size="6.0" dy="2.0">n</tspan></text>
<text x="163.9" y="158.9" text-anchor="start" font-size="6" fill="#000" stroke="#000" stroke-width="0.1" textLength="6.0" lengthAdjust="spacing">(f)</text>
<line x1="200" y1="257" x2="302.5" y2="173.5" stroke="#000" stroke-width="1.1"/>
<rect x="197.7" y="254.7" width="4.6" height="4.6" fill="#000"/>
<rect x="214.95" y="234.2" width="4.6" height="4.6" fill="#000"/>
<rect x="231.95" y="224.7" width="4.6" height="4.6" fill="#000"/>
<rect x="248.7" y="204.95" width="4.6" height="4.6" fill="#000"/>
<rect x="271.7" y="182.95" width="4.6" height="4.6" fill="#000"/>
<rect x="280.2" y="175.45" width="4.6" height="4.6" fill="#000"/>
<rect x="300.2" y="159.2" width="4.6" height="4.6" fill="#000"/>
<circle cx="217.25" cy="254.5" r="2.6" fill="#ff0000"/>
<circle cx="234.25" cy="254.5" r="2.6" fill="#ff0000"/>
<circle cx="251" cy="254.25" r="2.6" fill="#ff0000"/>
<circle cx="274" cy="254" r="2.6" fill="#ff0000"/>
<circle cx="282.5" cy="253.5" r="2.6" fill="#ff0000"/>
<circle cx="302.25" cy="253.25" r="2.6" fill="#ff0000"/>
<line x1="367.3" y1="149.4" x2="496.5" y2="149.4" stroke="#000" stroke-width="1"/>
<line x1="496.5" y1="149.4" x2="496.5" y2="267.5" stroke="#000" stroke-width="1"/>
<line x1="367.3" y1="149.4" x2="367.3" y2="267.5" stroke="#000" stroke-width="1"/>
<line x1="364.9" y1="257.75" x2="367.3" y2="257.75" stroke="#000" stroke-width="0.9"/>
<text x="363" y="259.76" text-anchor="end" font-size="6.5" fill="#000" stroke="#000">0</text>
<line x1="364.9" y1="237.05" x2="367.3" y2="237.05" stroke="#000" stroke-width="0.9"/>
<text x="363" y="239.06" text-anchor="end" font-size="6.5" fill="#000" stroke="#000">20</text>
<line x1="364.9" y1="216.35" x2="367.3" y2="216.35" stroke="#000" stroke-width="0.9"/>
<text x="363" y="218.36" text-anchor="end" font-size="6.5" fill="#000" stroke="#000">40</text>
<line x1="364.9" y1="195.65" x2="367.3" y2="195.65" stroke="#000" stroke-width="0.9"/>
<text x="363" y="197.66" text-anchor="end" font-size="6.5" fill="#000" stroke="#000">60</text>
<line x1="364.9" y1="174.95" x2="367.3" y2="174.95" stroke="#000" stroke-width="0.9"/>
<text x="363" y="176.96" text-anchor="end" font-size="6.5" fill="#000" stroke="#000">80</text>
<line x1="364.9" y1="154.25" x2="367.3" y2="154.25" stroke="#000" stroke-width="0.9"/>
<text x="363" y="156.26" text-anchor="end" font-size="6.5" fill="#000" stroke="#000">100</text>
<line x1="366" y1="247.4" x2="367.3" y2="247.4" stroke="#000" stroke-width="0.8"/>
<line x1="366" y1="226.7" x2="367.3" y2="226.7" stroke="#000" stroke-width="0.8"/>
<line x1="366" y1="206" x2="367.3" y2="206" stroke="#000" stroke-width="0.8"/>
<line x1="366" y1="185.3" x2="367.3" y2="185.3" stroke="#000" stroke-width="0.8"/>
<line x1="366" y1="164.6" x2="367.3" y2="164.6" stroke="#000" stroke-width="0.8"/>
<line x1="367.3" y1="267.5" x2="496.5" y2="267.5" stroke="#000" stroke-width="1"/>
<line x1="376" y1="267.5" x2="376" y2="269.7" stroke="#000" stroke-width="0.9"/>
<text x="376" y="276.7" text-anchor="middle" font-size="6.5" fill="#000" stroke="#000">0</text>
<line x1="394.6" y1="267.5" x2="394.6" y2="269.7" stroke="#000" stroke-width="0.9"/>
<text x="394.6" y="276.7" text-anchor="middle" font-size="6.5" fill="#000" stroke="#000">1</text>
<line x1="413.2" y1="267.5" x2="413.2" y2="269.7" stroke="#000" stroke-width="0.9"/>
<text x="413.2" y="276.7" text-anchor="middle" font-size="6.5" fill="#000" stroke="#000">2</text>
<line x1="431.8" y1="267.5" x2="431.8" y2="269.7" stroke="#000" stroke-width="0.9"/>
<text x="431.8" y="276.7" text-anchor="middle" font-size="6.5" fill="#000" stroke="#000">3</text>
<line x1="450.4" y1="267.5" x2="450.4" y2="269.7" stroke="#000" stroke-width="0.9"/>
<text x="450.4" y="276.7" text-anchor="middle" font-size="6.5" fill="#000" stroke="#000">4</text>
<line x1="469" y1="267.5" x2="469" y2="269.7" stroke="#000" stroke-width="0.9"/>
<text x="469" y="276.7" text-anchor="middle" font-size="6.5" fill="#000" stroke="#000">5</text>
<line x1="487.6" y1="267.5" x2="487.6" y2="269.7" stroke="#000" stroke-width="0.9"/>
<text x="487.6" y="276.7" text-anchor="middle" font-size="6.5" fill="#000" stroke="#000">6</text>
<line x1="385.3" y1="267.5" x2="385.3" y2="268.7" stroke="#000" stroke-width="0.8"/>
<line x1="403.9" y1="267.5" x2="403.9" y2="268.7" stroke="#000" stroke-width="0.8"/>
<line x1="422.5" y1="267.5" x2="422.5" y2="268.7" stroke="#000" stroke-width="0.8"/>
<line x1="441.1" y1="267.5" x2="441.1" y2="268.7" stroke="#000" stroke-width="0.8"/>
<line x1="459.7" y1="267.5" x2="459.7" y2="268.7" stroke="#000" stroke-width="0.8"/>
<line x1="478.3" y1="267.5" x2="478.3" y2="268.7" stroke="#000" stroke-width="0.8"/>
<text x="432.5" y="284" text-anchor="middle" font-size="6.9" fill="#000" stroke="#000" textLength="13" lengthAdjust="spacingAndGlyphs">t (h)</text>
<text transform="translate(349.9,210.3) rotate(-90)" text-anchor="middle" font-size="6.9" fill="#000" stroke="#000" textLength="35" lengthAdjust="spacingAndGlyphs">Conv. (%)</text>
<text x="341" y="155.3" text-anchor="start" font-size="7" fill="#000" stroke="#000">(g)</text>
<rect x="380.5" y="159.2" width="37" height="19.2" fill="#fff" stroke="#888" stroke-width="0.6"/>
<rect x="387.4" y="163.2" width="4" height="4" fill="#000"/>
<circle cx="389.5" cy="173.8" r="2.5" fill="#ff0000"/>
<text x="397.5" y="167.4" text-anchor="start" font-size="6.9" fill="#000" stroke="#000">VAc</text>
<text x="397.7" y="176.5" text-anchor="start" font-size="6.8" fill="#000" stroke="#000">MMA</text>
<rect x="373.9" y="255.65" width="4.2" height="4.2" fill="#000"/>
<rect x="411.1" y="246.34" width="4.2" height="4.2" fill="#000"/>
<rect x="429.7" y="238.06" width="4.2" height="4.2" fill="#000"/>
<rect x="448.3" y="228.74" width="4.2" height="4.2" fill="#000"/>
<rect x="466.9" y="214.25" width="4.2" height="4.2" fill="#000"/>
<rect x="485.5" y="193.55" width="4.2" height="4.2" fill="#000"/>
<circle cx="376" cy="257.75" r="2.6" fill="#ff0000"/>
<circle cx="413.2" cy="237.05" r="2.6" fill="#ff0000"/>
<circle cx="431.8" cy="223.59" r="2.6" fill="#ff0000"/>
<circle cx="450.4" cy="195.65" r="2.6" fill="#ff0000"/>
<circle cx="469" cy="179.09" r="2.6" fill="#ff0000"/>
<circle cx="487.6" cy="160.46" r="2.6" fill="#ff0000"/>
<line x1="540.5" y1="148.5" x2="668.5" y2="148.5" stroke="#000" stroke-width="1"/>
<line x1="540.5" y1="148.5" x2="540.5" y2="268.5" stroke="#000" stroke-width="1"/>
<line x1="538.1" y1="268.25" x2="540.5" y2="268.25" stroke="#000" stroke-width="0.9"/>
<text x="536.8" y="270.11" text-anchor="end" font-size="6" fill="#000" stroke="#000" stroke-width="0.22">5</text>
<line x1="538.1" y1="244.25" x2="540.5" y2="244.25" stroke="#000" stroke-width="0.9"/>
<text x="536.8" y="246.11" text-anchor="end" font-size="6" fill="#000" stroke="#000" stroke-width="0.22">10</text>
<line x1="538.1" y1="220.25" x2="540.5" y2="220.25" stroke="#000" stroke-width="0.9"/>
<text x="536.8" y="222.11" text-anchor="end" font-size="6" fill="#000" stroke="#000" stroke-width="0.22">15</text>
<line x1="538.1" y1="196.25" x2="540.5" y2="196.25" stroke="#000" stroke-width="0.9"/>
<text x="536.8" y="198.11" text-anchor="end" font-size="6" fill="#000" stroke="#000" stroke-width="0.22">20</text>
<line x1="538.1" y1="172.25" x2="540.5" y2="172.25" stroke="#000" stroke-width="0.9"/>
<text x="536.8" y="174.11" text-anchor="end" font-size="6" fill="#000" stroke="#000" stroke-width="0.22">25</text>
<line x1="538.1" y1="148.25" x2="540.5" y2="148.25" stroke="#000" stroke-width="0.9"/>
<text x="536.8" y="150.11" text-anchor="end" font-size="6" fill="#000" stroke="#000" stroke-width="0.22">30</text>
<line x1="539.2" y1="256.25" x2="540.5" y2="256.25" stroke="#000" stroke-width="0.8"/>
<line x1="539.2" y1="232.25" x2="540.5" y2="232.25" stroke="#000" stroke-width="0.8"/>
<line x1="539.2" y1="208.25" x2="540.5" y2="208.25" stroke="#000" stroke-width="0.8"/>
<line x1="539.2" y1="184.25" x2="540.5" y2="184.25" stroke="#000" stroke-width="0.8"/>
<line x1="539.2" y1="160.25" x2="540.5" y2="160.25" stroke="#000" stroke-width="0.8"/>
<line x1="668.5" y1="148.5" x2="668.5" y2="268.5" stroke="#ff0000" stroke-width="1"/>
<line x1="666.1" y1="148.25" x2="668.5" y2="148.25" stroke="#ff0000" stroke-width="0.9"/>
<line x1="666.1" y1="219.05" x2="668.5" y2="219.05" stroke="#ff0000" stroke-width="0.9"/>
<text x="670.8" y="221.16" text-anchor="start" font-size="6.8" fill="#ff0000" stroke="#ff0000">2</text>
<line x1="667.2" y1="183.65" x2="668.5" y2="183.65" stroke="#ff0000" stroke-width="0.8"/>
<line x1="667.2" y1="254.45" x2="668.5" y2="254.45" stroke="#ff0000" stroke-width="0.8"/>
<text x="671.3" y="149.9" text-anchor="start" font-size="4.8" fill="#ff0000" stroke="#ff0000">4</text>
<line x1="540.5" y1="268.5" x2="668.5" y2="268.5" stroke="#000" stroke-width="1"/>
<line x1="551.25" y1="268.5" x2="551.25" y2="270.7" stroke="#000" stroke-width="0.9"/>
<text x="551.25" y="277.1" text-anchor="middle" font-size="6" fill="#000" stroke="#000" stroke-width="0.25">10</text>
<line x1="572.5" y1="268.5" x2="572.5" y2="270.7" stroke="#000" stroke-width="0.9"/>
<text x="572.5" y="277.1" text-anchor="middle" font-size="6" fill="#000" stroke="#000" stroke-width="0.25">20</text>
<line x1="593.75" y1="268.5" x2="593.75" y2="270.7" stroke="#000" stroke-width="0.9"/>
<text x="593.75" y="277.1" text-anchor="middle" font-size="6" fill="#000" stroke="#000" stroke-width="0.25">30</text>
<line x1="615" y1="268.5" x2="615" y2="270.7" stroke="#000" stroke-width="0.9"/>
<text x="615" y="277.1" text-anchor="middle" font-size="6" fill="#000" stroke="#000" stroke-width="0.25">40</text>
<line x1="636.25" y1="268.5" x2="636.25" y2="270.7" stroke="#000" stroke-width="0.9"/>
<text x="636.25" y="277.1" text-anchor="middle" font-size="6" fill="#000" stroke="#000" stroke-width="0.25">50</text>
<line x1="657.5" y1="268.5" x2="657.5" y2="270.7" stroke="#000" stroke-width="0.9"/>
<text x="657.5" y="277.1" text-anchor="middle" font-size="6" fill="#000" stroke="#000" stroke-width="0.25">60</text>
<line x1="561.88" y1="268.5" x2="561.88" y2="269.7" stroke="#000" stroke-width="0.8"/>
<line x1="583.12" y1="268.5" x2="583.12" y2="269.7" stroke="#000" stroke-width="0.8"/>
<line x1="604.38" y1="268.5" x2="604.38" y2="269.7" stroke="#000" stroke-width="0.8"/>
<line x1="625.62" y1="268.5" x2="625.62" y2="269.7" stroke="#000" stroke-width="0.8"/>
<line x1="646.88" y1="268.5" x2="646.88" y2="269.7" stroke="#000" stroke-width="0.8"/>
<text x="602.5" y="285.2" text-anchor="middle" font-size="6.9" fill="#000" stroke="#000" textLength="46" lengthAdjust="spacingAndGlyphs">Total Conv. (%)</text>
<text transform="translate(524.4,205.5) rotate(-90)" text-anchor="middle" font-size="6.3" fill="#000" stroke="#000" stroke-width="0" textLength="37.5" lengthAdjust="spacingAndGlyphs">M<tspan font-size="6.2" dy="2">n</tspan><tspan dy="-2"> (kg/mol)</tspan></text>
<text transform="translate(676.6,205.8) rotate(90)" text-anchor="middle" font-size="7.2" fill="#ff0000" stroke="#ff0000" textLength="21.9" lengthAdjust="spacingAndGlyphs">M<tspan font-size="5.6" dy="1.8">w</tspan><tspan dy="-1.8">/M</tspan><tspan font-size="5.6" dy="1.8">n</tspan></text>
<text x="517.6" y="151.3" text-anchor="start" font-size="7.6" fill="#000" stroke="#000">(h)</text>
<rect x="548.95" y="244.95" width="4.6" height="4.6" fill="#000"/>
<rect x="565.7" y="220.45" width="4.6" height="4.6" fill="#000"/>
<rect x="586.95" y="207.45" width="4.6" height="4.6" fill="#000"/>
<rect x="610.7" y="190.95" width="4.6" height="4.6" fill="#000"/>
<rect x="655.7" y="173.7" width="4.6" height="4.6" fill="#000"/>
<circle cx="551.25" cy="242.75" r="2.6" fill="#ff0000"/>
<circle cx="568" cy="238" r="2.6" fill="#ff0000"/>
<circle cx="589.25" cy="236.5" r="2.6" fill="#ff0000"/>
<circle cx="613" cy="236" r="2.6" fill="#ff0000"/>
<circle cx="658" cy="235.75" r="2.6" fill="#ff0000"/>
</g>
</svg>
</body></html>
